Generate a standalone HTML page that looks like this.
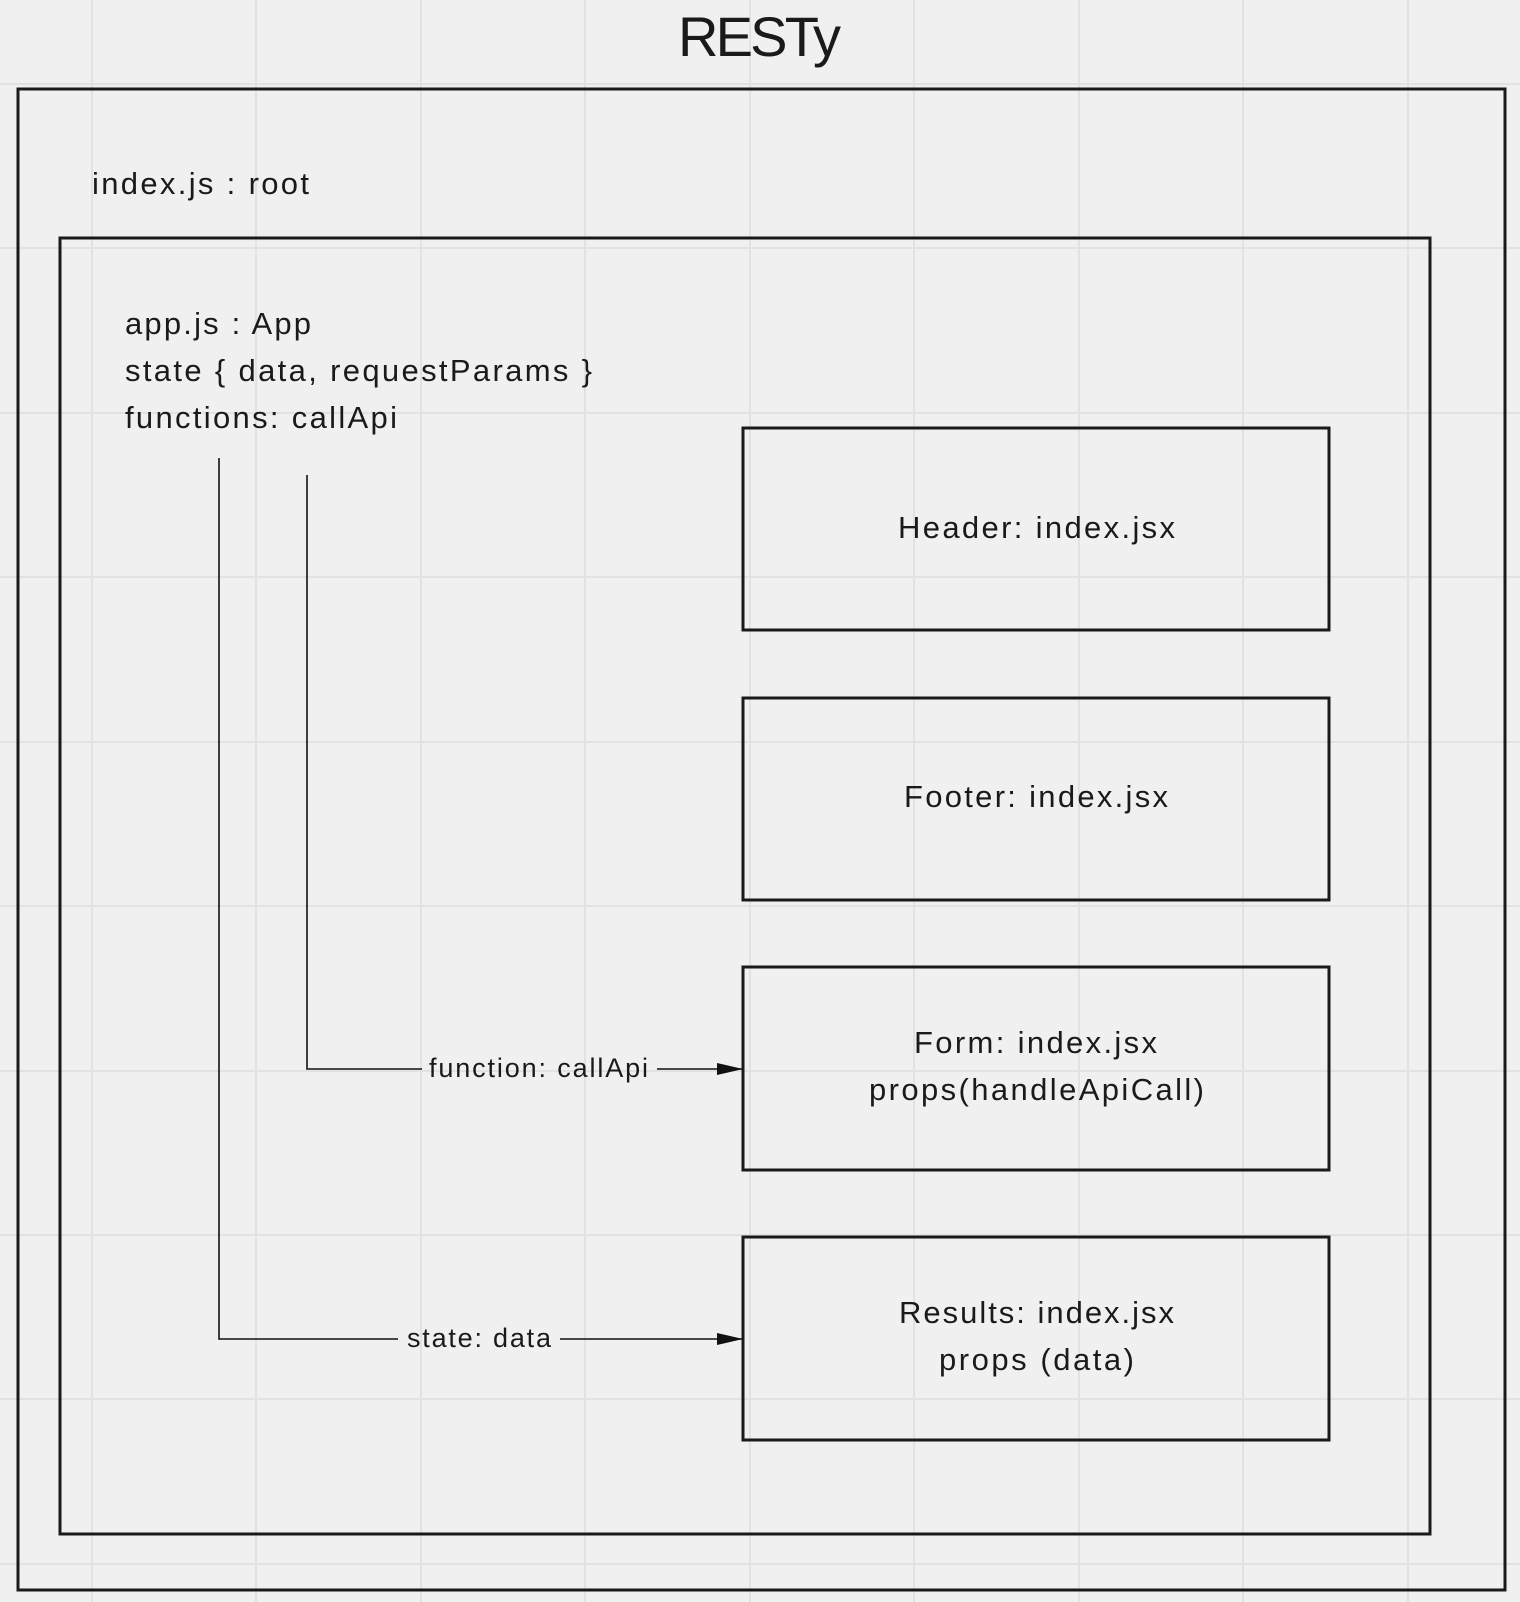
<!DOCTYPE html>
<html><head><meta charset="utf-8"><style>
html,body{margin:0;padding:0;background:#f0f0f0;}
body{width:1520px;height:1602px;overflow:hidden;}
svg{display:block}
text{font-family:"Liberation Sans","DejaVu Sans",sans-serif;fill:#1a1a1a;}
</style></head><body>
<svg width="1520" height="1602" viewBox="0 0 1520 1602" xmlns="http://www.w3.org/2000/svg">
<defs><marker id="ah" markerWidth="26" markerHeight="12" refX="25" refY="6" orient="auto" markerUnits="userSpaceOnUse"><path d="M0,0 L26,6 L0,12 Z" fill="#111"/></marker></defs>
<rect width="1520" height="1602" fill="#f0f0f0"/>
<g stroke="#e2e2e2" stroke-width="2">
<line x1="92" y1="0" x2="92" y2="1602"/><line x1="256" y1="0" x2="256" y2="1602"/><line x1="421" y1="0" x2="421" y2="1602"/><line x1="585" y1="0" x2="585" y2="1602"/><line x1="750" y1="0" x2="750" y2="1602"/><line x1="914" y1="0" x2="914" y2="1602"/><line x1="1079" y1="0" x2="1079" y2="1602"/><line x1="1243" y1="0" x2="1243" y2="1602"/><line x1="1408" y1="0" x2="1408" y2="1602"/>
<line y1="84" x1="0" y2="84" x2="1520"/><line y1="248" x1="0" y2="248" x2="1520"/><line y1="413" x1="0" y2="413" x2="1520"/><line y1="577" x1="0" y2="577" x2="1520"/><line y1="742" x1="0" y2="742" x2="1520"/><line y1="906" x1="0" y2="906" x2="1520"/><line y1="1071" x1="0" y2="1071" x2="1520"/><line y1="1235" x1="0" y2="1235" x2="1520"/><line y1="1399" x1="0" y2="1399" x2="1520"/><line y1="1564" x1="0" y2="1564" x2="1520"/>
</g>
<text x="678" y="56" font-size="56" textLength="163" lengthAdjust="spacing">RESTy</text>
<g fill="none" stroke="#1a1a1a" stroke-width="3">
<rect x="18" y="89" width="1487" height="1501"/>
<rect x="60" y="238" width="1370" height="1296"/>
<rect x="743" y="428" width="586" height="202"/>
<rect x="743" y="698" width="586" height="202"/>
<rect x="743" y="967" width="586" height="203"/>
<rect x="743" y="1237" width="586" height="203"/>
</g>
<text x="92" y="194" font-size="31" textLength="217" lengthAdjust="spacing">index.js : root</text>
<text x="125" y="334" font-size="31" textLength="186" lengthAdjust="spacing">app.js : App</text>
<text x="125" y="381" font-size="31" textLength="467" lengthAdjust="spacing">state { data, requestParams }</text>
<text x="125" y="428" font-size="31" textLength="272" lengthAdjust="spacing">functions: callApi</text>
<g font-size="31">
<text x="898" y="538" textLength="277" lengthAdjust="spacing">Header: index.jsx</text>
<text x="904" y="807" textLength="264" lengthAdjust="spacing">Footer: index.jsx</text>
<text x="914" y="1053" textLength="243" lengthAdjust="spacing">Form: index.jsx</text>
<text x="869" y="1100" textLength="335" lengthAdjust="spacing">props(handleApiCall)</text>
<text x="899" y="1323" textLength="275" lengthAdjust="spacing">Results: index.jsx</text>
<text x="939" y="1370" textLength="195" lengthAdjust="spacing">props (data)</text>
</g>
<g fill="none" stroke="#111" stroke-width="1.6">
<polyline points="307,475 307,1069 422,1069"/>
<line x1="657" y1="1069" x2="742" y2="1069" marker-end="url(#ah)"/>
<polyline points="219,458 219,1339 398,1339"/>
<line x1="560" y1="1339" x2="742" y2="1339" marker-end="url(#ah)"/>
</g>
<text x="429" y="1077" font-size="27" textLength="219" lengthAdjust="spacing">function: callApi</text>
<text x="407" y="1347" font-size="27" textLength="144" lengthAdjust="spacing">state: data</text>
</svg>
</body></html>
